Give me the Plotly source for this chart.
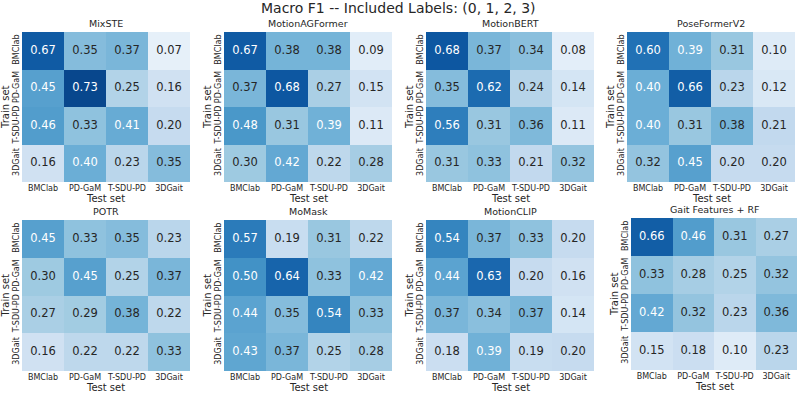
import plotly.graph_objects as go

W, H = 797, 395

sets = ["BMClab", "PD-GaM", "T-SDU-PD", "3DGait"]
models = ["MixSTE", "MotionAGFormer", "MotionBERT", "PoseFormerV2",
          "POTR", "MoMask", "MotionCLIP", "Gait Features + RF"]

# rows = train set, cols = test set
mixste = [[0.67, 0.35, 0.37, 0.07], [0.45, 0.73, 0.25, 0.16],
          [0.46, 0.33, 0.41, 0.20], [0.16, 0.40, 0.23, 0.35]]
motionagformer = [[0.67, 0.38, 0.38, 0.09], [0.37, 0.68, 0.27, 0.15],
                  [0.48, 0.31, 0.39, 0.11], [0.30, 0.42, 0.22, 0.28]]
motionbert = [[0.68, 0.37, 0.34, 0.08], [0.35, 0.62, 0.24, 0.14],
              [0.56, 0.31, 0.36, 0.11], [0.31, 0.33, 0.21, 0.32]]
poseformerv2 = [[0.60, 0.39, 0.31, 0.10], [0.40, 0.66, 0.23, 0.12],
                [0.40, 0.31, 0.38, 0.21], [0.32, 0.45, 0.20, 0.20]]
potr = [[0.45, 0.33, 0.35, 0.23], [0.30, 0.45, 0.25, 0.37],
        [0.27, 0.29, 0.38, 0.22], [0.16, 0.22, 0.22, 0.33]]
momask = [[0.57, 0.19, 0.31, 0.22], [0.50, 0.64, 0.33, 0.42],
          [0.44, 0.35, 0.54, 0.33], [0.43, 0.37, 0.25, 0.28]]
motionclip = [[0.54, 0.37, 0.33, 0.20], [0.44, 0.63, 0.20, 0.16],
              [0.37, 0.34, 0.37, 0.14], [0.18, 0.39, 0.19, 0.20]]
gait_rf = [[0.66, 0.46, 0.31, 0.27], [0.33, 0.28, 0.25, 0.32],
           [0.42, 0.32, 0.23, 0.36], [0.15, 0.18, 0.10, 0.23]]

matrices = [mixste, motionagformer, motionbert, poseformerv2,
            potr, momask, motionclip, gait_rf]

# matplotlib "Blues"
blues = ["#f7fbff", "#deebf7", "#c6dbef", "#9ecae1", "#6baed6",
         "#4292c6", "#2171b5", "#08519c", "#08306b"]
colorscale = [[i / 8, c] for i, c in enumerate(blues)]
ZMIN, ZMAX = 0.0, 0.8


def hex2rgb(h):
    return [int(h[i:i + 2], 16) for i in (1, 3, 5)]


def blues_at(v):
    t = min(max((v - ZMIN) / (ZMAX - ZMIN), 0), 1) * 8
    i = min(int(t), 7)
    f = t - i
    a, b = hex2rgb(blues[i]), hex2rgb(blues[i + 1])
    return [a[k] + (b[k] - a[k]) * f for k in range(3)]


def text_color(v):
    # seaborn style: dark text on light cells, white on dark
    lin = []
    for c in blues_at(v):
        c = c / 255
        lin.append(c / 12.92 if c <= 0.03928 else ((c + 0.055) / 1.055) ** 2.4)
    lum = 0.2126 * lin[0] + 0.7152 * lin[1] + 0.0722 * lin[2]
    return "#262626" if lum > 0.408 else "white"


# panel rectangles in pixels (x0, x1, y0, y1)
panels = [(22, 190, 32, 182), (224, 392, 32, 182), (426, 594, 32, 182), (627, 795, 32, 182),
          (22, 190, 220, 371), (224, 392, 220, 371), (426, 594, 220, 371), (631, 797, 218, 370)]

font = "DejaVu Sans"
dark = "#262626"
fig = go.Figure()
annotations = []

for n, (name, z) in enumerate(zip(models, matrices)):
    ax = "" if n == 0 else str(n + 1)
    x0, x1, y0, y1 = panels[n]
    fig.add_trace(go.Heatmap(
        z=z, x=sets, y=sets, colorscale=colorscale, zmin=ZMIN, zmax=ZMAX,
        showscale=False, xaxis="x" + ax, yaxis="y" + ax,
        hovertemplate="Train: %{y}<br>Test: %{x}<br>F1: %{z:.2f}<extra></extra>"))
    tx, ty, tt, tc = [], [], [], []
    for i, row in enumerate(z):
        for j, v in enumerate(row):
            tx.append(sets[j]); ty.append(sets[i])
            tt.append(f"{v:.2f}"); tc.append(text_color(v))
    fig.add_trace(go.Scatter(
        x=tx, y=ty, text=tt, mode="text", textfont=dict(color=tc, size=11.5, family=font),
        hoverinfo="skip", showlegend=False, xaxis="x" + ax, yaxis="y" + ax))
    fig.update_layout({
        "xaxis" + ax: dict(domain=[x0 / W, x1 / W], anchor="y" + ax, showgrid=False,
                           zeroline=False, tickangle=0, tickfont=dict(size=8, color=dark),
                           ticks="", showline=False),
        "yaxis" + ax: dict(domain=[1 - y1 / H, 1 - y0 / H], anchor="x" + ax, showgrid=False,
                           zeroline=False, autorange="reversed", tickangle=-90,
                           tickfont=dict(size=8, color=dark), ticks="", showline=False),
    })
    cx = (x0 + x1) / 2 / W
    annotations.append(dict(text=name, x=cx, y=1 - (y0 - 1) / H, xref="paper", yref="paper",
                            xanchor="center", yanchor="bottom", showarrow=False,
                            font=dict(size=9.5, family=font, color=dark)))
    annotations.append(dict(text="Test set", x=cx, y=1 - (y1 + 16) / H, xref="paper", yref="paper",
                            xanchor="center", yanchor="middle", showarrow=False,
                            font=dict(size=10, family=font, color=dark)))
    annotations.append(dict(text="Train set", x=(x0 - 17) / W, y=1 - (y0 + y1) / 2 / H,
                            xref="paper", yref="paper", xanchor="center", yanchor="middle",
                            textangle=-90, showarrow=False,
                            font=dict(size=10, family=font, color=dark)))

annotations.append(dict(text="Macro F1 -- Included Labels: (0, 1, 2, 3)", x=0.5, y=1 - 8 / H,
                        xref="paper", yref="paper", xanchor="center", yanchor="middle",
                        showarrow=False, font=dict(size=14, family=font, color=dark)))

fig.update_layout(width=W, height=H, margin=dict(l=0, r=0, t=0, b=0),
                  paper_bgcolor="white", plot_bgcolor="white",
                  font=dict(family=font), annotations=annotations, showlegend=False)

fig.write_html("out.html", config={"displayModeBar": False},
               post_script="document.body.style.margin='0';")
